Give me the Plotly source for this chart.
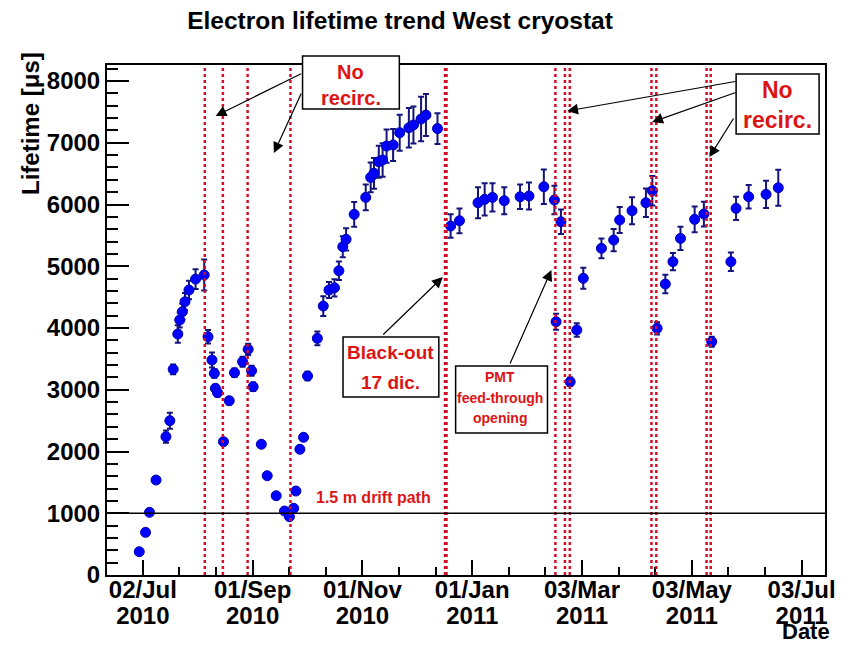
import plotly.graph_objects as go
import pandas as pd

# ---------------- data ----------------
dates = [
    "2010-06-30 00:00", "2010-07-03 12:00", "2010-07-05 17:00", "2010-07-09 08:00",
    "2010-07-14 20:00", "2010-07-17 00:00", "2010-07-18 20:00", "2010-07-21 10:00",
    "2010-07-22 12:00", "2010-07-23 23:00", "2010-07-25 10:00", "2010-07-27 15:00",
    "2010-07-31 07:00", "2010-08-05 02:00", "2010-08-07 05:00", "2010-08-09 10:00",
    "2010-08-10 17:00", "2010-08-11 07:00", "2010-08-12 12:00", "2010-08-15 19:00",
    "2010-08-19 00:00", "2010-08-21 22:00", "2010-08-26 10:00", "2010-08-29 12:00",
    "2010-08-31 10:00", "2010-09-01 07:00", "2010-09-05 20:00", "2010-09-09 02:00",
    "2010-09-14 02:00", "2010-09-18 17:00", "2010-09-21 10:00", "2010-09-23 19:00",
    "2010-09-25 01:00", "2010-09-27 06:00", "2010-09-29 07:00", "2010-10-01 12:00",
    "2010-10-06 23:00", "2010-10-10 06:00", "2010-10-13 10:00", "2010-10-16 11:00",
    "2010-10-18 22:00", "2010-10-21 02:00", "2010-10-22 22:00", "2010-10-27 10:00",
    "2010-11-02 20:00", "2010-11-05 14:00", "2010-11-07 10:00", "2010-11-10 02:00",
    "2010-11-12 05:00", "2010-11-14 10:00", "2010-11-18 01:00", "2010-11-21 17:00",
    "2010-11-26 19:00", "2010-11-29 08:00", "2010-12-03 14:00", "2010-12-06 07:00",
    "2010-12-12 17:00", "2010-12-20 00:00", "2010-12-24 22:00", "2011-01-04 05:00",
    "2011-01-07 22:00", "2011-01-12 06:00", "2011-01-18 19:00", "2011-01-27 14:00",
    "2011-02-01 13:00", "2011-02-09 19:00", "2011-02-15 16:00", "2011-02-16 14:00",
    "2011-02-19 07:00", "2011-02-24 10:00", "2011-02-28 02:00", "2011-03-03 17:00",
    "2011-03-13 19:00", "2011-03-20 14:00", "2011-03-23 22:00", "2011-03-30 19:00",
    "2011-04-07 12:00", "2011-04-11 02:00", "2011-04-13 17:00", "2011-04-18 07:00",
    "2011-04-22 12:00", "2011-04-26 17:00", "2011-05-04 14:00", "2011-05-09 17:00",
    "2011-05-14 02:00", "2011-05-24 17:00", "2011-05-27 14:00", "2011-06-03 14:00",
    "2011-06-13 06:00", "2011-06-20 01:00",
]

lifetime_us = [
    377, 691, 1015, 1538, 2240, 2499, 3331, 3903, 4130, 4264, 4426, 4615,
    4793, 4858, 3859, 3482, 3266, 3023, 2952, 2159, 2823, 3276, 3454, 3655,
    3308, 3049, 2117, 1608, 1284, 1036, 944, 1080, 1360, 2036, 2230, 3223,
    3833, 4356, 4615, 4652, 4928, 5317, 5436, 5841, 6116, 6440, 6505, 6693,
    6721, 6947, 6964, 7163, 7244, 7288, 7385, 7449, 7230, 5652, 5737, 6029,
    6084, 6116, 6062, 6126, 6138, 6288, 6073, 4102, 5721, 3130, 3968, 4805,
    5291, 5425, 5749, 5900, 6029, 6223, 3995, 4712, 5074, 5452, 5760, 5846,
    3778, 5074, 5938, 6126, 6165, 6272,
]

lifetime_err = [
    15, 20, 25, 40, 100, 130, 80, 140, 120, 130, 140, 150,
    160, 250, 110, 120, 70, 60, 60, 40, 60, 70, 80, 90,
    80, 70, 40, 30, 30, 25, 25, 25, 35, 45, 50, 70,
    110, 160, 130, 140, 150, 170, 180, 200, 210, 240, 250, 260,
    270, 270, 260, 290, 320, 300, 360, 340, 250, 190, 200, 250,
    260, 230, 220, 200, 220, 280, 230, 130, 200, 70, 110, 170,
    160, 180, 210, 220, 230, 240, 100, 150, 140, 190, 210, 200,
    80, 150, 190, 190, 220, 290,
]

# vertical event markers (no recirculation periods etc.)
norecirc_dates = [
    "2010-08-05 10:00", "2010-08-15 11:00", "2010-08-29 05:00", "2010-09-22 00:00",
    "2011-02-16 05:00", "2011-02-21 12:00", "2011-02-24 05:00",
    "2011-04-10 14:00", "2011-04-13 07:00", "2011-05-11 05:00", "2011-05-13 12:00",
]
blackout_date = "2010-12-17 07:00"

tick_dates = ["2010-07-02", "2010-09-01", "2010-11-01", "2011-01-01",
              "2011-03-03", "2011-05-03", "2011-07-03"]
tick_day = ["02/Jul", "01/Sep", "01/Nov", "01/Jan", "03/Mar", "03/May", "03/Jul"]
tick_year = ["2010", "2010", "2010", "2011", "2011", "2011", "2011"]

drift_limit = 1000
x_range = ["2010-06-12 02:00", "2011-07-16 00:00"]
y_range = [0, 8260]

# minor ticks: thirds between labelled ticks
minor_vals = []
td = pd.to_datetime(tick_dates)
for a, b in zip(td[:-1], td[1:]):
    step = (b - a) / 3
    minor_vals += [(a + step).strftime("%Y-%m-%d %H:%M"), (a + 2 * step).strftime("%Y-%m-%d %H:%M")]

# ---------------- figure ----------------
W, H = 847, 646
L, R, T, B = 107, 13, 65, 71
PW, PH = W - L - R, H - T - B


def px(x):
    return (x - L) / PW


def py(y):
    return (H - B - y) / PH


FONT = "Liberation Sans, Arial, Helvetica, sans-serif"
RED = "#dc1414"
LINE_RED = "#d0102a"

fig = go.Figure()

fig.add_trace(go.Scatter(
    x=dates, y=lifetime_us, mode="markers",
    marker=dict(color="#0000ff", size=10, line=dict(color="#0000b0", width=1)),
    error_y=dict(type="data", array=lifetime_err, visible=True,
                 color="#14147a", thickness=2, width=3),
    showlegend=False, hoverinfo="x+y",
))
# carrier trace for the second (year) label axis
fig.add_trace(go.Scatter(
    x=dates, y=lifetime_us, mode="markers", xaxis="x2",
    marker=dict(opacity=0), showlegend=False, hoverinfo="skip",
))

shapes = []
for d in norecirc_dates:
    shapes.append(dict(type="line", xref="x", yref="paper", x0=d, x1=d, y0=0, y1=1,
                       line=dict(color=LINE_RED, width=2.5, dash="3px,3px")))
shapes.append(dict(type="line", xref="x", yref="paper", x0=blackout_date, x1=blackout_date,
                   y0=0, y1=1, line=dict(color=LINE_RED, width=4, dash="3px,3px")))
shapes.append(dict(type="line", xref="paper", yref="y", x0=0, x1=1,
                   y0=drift_limit, y1=drift_limit, line=dict(color="black", width=1.5)))

# annotation boxes (pixel geometry)
boxes = [(305, 56, 403, 109), (744, 74, 828, 134), (346, 337, 443, 397), (460, 366, 553, 433)]
for x0, y0, x1, y1 in boxes:
    shapes.append(dict(type="rect", xref="paper", yref="paper",
                       x0=px(x0), x1=px(x1), y0=py(y1), y1=py(y0),
                       line=dict(color="black", width=1.5), fillcolor="white", layer="above"))

annotations = []


def label(text, x, y, size, color=RED, yanchor="middle", **kw):
    annotations.append(dict(text=text, x=px(x), y=py(y), xref="paper", yref="paper",
                            showarrow=False, xanchor="center", yanchor=yanchor,
                            font=dict(family=FONT, size=size, color=color, weight="bold"), **kw))


label("No", 354, 72, 20)
label("recirc.", 354, 98, 20)
label("No", 786, 90, 23)
label("recirc.", 786, 120, 23)
label("Black-out", 394, 352, 19)
label("17 dic.", 394, 382, 19)
label("PMT", 505, 377, 14)
label("feed-through", 505, 398, 14)
label("opening", 505, 418, 14)
label("1.5 m drift path", 377, 497, 16)
label("Date", 815, 646, 22, color="black", yanchor="bottom")
label("Lifetime [\u03bcs]", 29, 123, 24, color="black", textangle=-90)


def arrow(tail, tip):
    annotations.append(dict(text="", x=px(tip[0]), y=py(tip[1]), xref="paper", yref="paper",
                            ax=tail[0] - tip[0], ay=tail[1] - tip[1],
                            showarrow=True, arrowhead=2, arrowsize=1.8, arrowwidth=1.2,
                            arrowcolor="black", standoff=0, startstandoff=0))


arrow((304, 73), (217, 116))
arrow((304, 92), (276, 153))
arrow((744, 81), (573, 111))
arrow((744, 92), (659, 122))
arrow((742, 117), (717, 157))
arrow((386, 336), (447, 277))
arrow((515, 365), (557, 270))

tickfont = dict(family=FONT, size=24, color="black", weight="bold")

fig.update_layout(
    width=W, height=H, margin=dict(l=L, r=R, t=T, b=B, pad=0),
    paper_bgcolor="white", plot_bgcolor="white",
    title=dict(text="Electron lifetime trend West cryostat", x=400 / W, xref="container",
               xanchor="center", y=1 - 20 / H, yref="container", yanchor="middle",
               font=dict(family=FONT, size=24.5, color="black", weight="bold")),
    xaxis=dict(type="date", range=x_range, tickmode="array", tickvals=tick_dates,
               ticktext=tick_day, ticks="inside", ticklen=15, tickwidth=1.5, tickcolor="black",
               minor=dict(tickmode="array", tickvals=minor_vals, ticks="inside", ticklen=8,
                          tickwidth=1.5, tickcolor="black"),
               showline=True, linewidth=2, linecolor="black", mirror=True,
               showgrid=False, zeroline=False, tickfont=tickfont, ticklabelstandoff=-8),
    xaxis2=dict(type="date", range=x_range, overlaying="x", anchor="y", side="bottom",
                tickmode="array", tickvals=tick_dates, ticktext=tick_year, ticks="",
                showline=False, showgrid=False, zeroline=False, tickfont=tickfont,
                ticklabelstandoff=24),
    yaxis=dict(range=y_range, tickmode="linear", tick0=0, dtick=1000, ticks="inside",
               ticklen=22, tickwidth=1.5, tickcolor="black",
               minor=dict(dtick=200, ticks="inside", ticklen=11, tickwidth=1.5, tickcolor="black"),
               showline=True, linewidth=2, linecolor="black", mirror=True,
               showgrid=False, zeroline=False, tickfont=tickfont),
    shapes=shapes, annotations=annotations,
)

fig.write_html("out.html")
